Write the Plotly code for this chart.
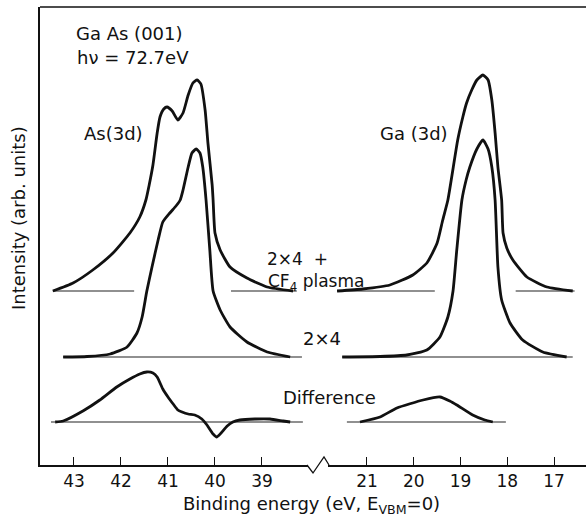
import plotly.graph_objects as go

# ---------------- data (binding energy in eV, intensity in arb. units) -------------
# Offsets (vertical stacking) of the three spectra
offset_top = 174     # 2x4 + CF4 plasma
offset_mid = 108     # 2x4
offset_diff = 43     # Difference

# As(3d) region
as_top_E = [43.45, 43.02, 42.60, 42.17, 41.81, 41.60, 41.47, 41.40, 41.32, 41.23, 41.17, 41.09,
            41.02, 40.91, 40.79, 40.68, 40.57, 40.47, 40.38, 40.30, 40.21, 40.15, 40.06, 40.04,
            40.00, 39.89, 39.68, 39.32, 38.89, 38.34]
as_top_I = [0, 8, 21, 38, 58, 74, 91, 106, 126, 158, 174, 182,
            184, 180, 171, 178, 196, 208, 211, 207, 181, 148, 106, 91,
            58, 41, 24, 13, 4, 0]

as_mid_E = [43.23, 42.72, 42.23, 41.87, 41.66, 41.55, 41.45, 41.34, 41.21, 41.11, 40.96, 40.83,
            40.74, 40.68, 40.57, 40.49, 40.40, 40.32, 40.26, 40.19, 40.11, 40.04, 39.89, 39.68,
            39.32, 38.89, 38.40]
as_mid_I = [0, 0.5, 3, 10, 24, 40, 66, 90, 117, 135, 144, 151,
            157, 167, 190, 204, 208, 204, 190, 157, 107, 66, 47, 30,
            15, 5, 0]

as_diff_E = [43.40, 43.23, 42.81, 42.45, 42.09, 41.81, 41.60, 41.45, 41.32, 41.23, 41.11, 41.00,
             40.89, 40.79, 40.70, 40.57, 40.43, 40.28, 40.17, 40.04, 39.96, 39.87, 39.74, 39.62,
             39.47, 39.15, 38.83, 38.55, 38.40]
as_diff_I = [0, 1, 11, 22, 35, 43, 48, 50, 49, 45, 33, 25,
             18, 12, 10, 8, 7, 3, -3, -12, -15, -11, -4, 0,
             2, 3, 3, 1, 0]

# Ga(3d) region
ga_top_E = [21.64, 21.09, 20.51, 20.02, 19.72, 19.50, 19.38, 19.27, 19.06, 18.95, 18.87, 18.76,
            18.65, 18.52, 18.41, 18.33, 18.26, 18.20, 18.12, 18.09, 18.01, 17.88, 17.58, 17.15,
            16.60]
ga_top_I = [0, 2, 6, 16, 28, 48, 71, 91, 151, 174, 188, 201,
            211, 216, 211, 191, 158, 124, 91, 58, 43, 31, 14, 4,
            0]

ga_mid_E = [21.53, 20.72, 20.15, 19.72, 19.44, 19.27, 19.16, 19.08, 18.97, 18.88, 18.80, 18.65,
            18.52, 18.41, 18.33, 18.26, 18.20, 18.12, 17.94, 17.67, 17.24, 16.73]
ga_mid_I = [0, 0.5, 2, 7, 20, 40, 66, 107, 157, 177, 190, 208,
            217, 208, 190, 157, 90, 57, 34, 17, 5, 0]

ga_diff_E = [21.15, 20.72, 20.36, 19.80, 19.44, 19.23, 19.08, 18.74, 18.48, 18.31]
ga_diff_I = [0, 5, 14, 22, 25, 21, 17, 7, 2, 0]

# Baseline segments (start, end energies)
as_top_base = [(43.45, 41.72), (39.66, 38.26)]
ga_top_base = [(21.64, 19.55), (17.82, 16.56)]
as_mid_base = [(43.23, 38.15)]
ga_mid_base = [(21.53, 16.60)]
as_diff_base = [(43.49, 38.13)]
ga_diff_base = [(21.43, 18.03)]

left_ticks = [43, 42, 41, 40, 39]
right_ticks = [21, 20, 19, 18, 17]

# ---------------- figure -------------
W, H = 586, 516
ML, MR, MT, MB = 40, 0, 7, 51
PW, PH = W - ML - MR, H - MT - MB

def px(x):
    return (x - ML) / PW

def py(y):
    return (H - MB - y) / PH

fig = go.Figure()
curve_style = dict(color="#111111", width=2.8, shape="spline", smoothing=0.5)
base_style = dict(color="#222222", width=1.1)

def add_curve(E, I, off, xa):
    fig.add_trace(go.Scatter(x=E, y=[v + off for v in I], mode="lines", line=curve_style,
                             xaxis=xa, yaxis="y", showlegend=False, hoverinfo="skip"))

def add_base(segs, off, xa):
    xs, ys = [], []
    for a, b in segs:
        xs += [a, b, None]
        ys += [off, off, None]
    fig.add_trace(go.Scatter(x=xs, y=ys, mode="lines", line=base_style,
                             xaxis=xa, yaxis="y", showlegend=False, hoverinfo="skip"))

add_base(as_top_base, offset_top, "x")
add_base(as_mid_base, offset_mid, "x")
add_base(as_diff_base, offset_diff, "x")
add_base(ga_top_base, offset_top, "x2")
add_base(ga_mid_base, offset_mid, "x2")
add_base(ga_diff_base, offset_diff, "x2")

add_curve(as_top_E, as_top_I, offset_top, "x")
add_curve(as_mid_E, as_mid_I, offset_mid, "x")
add_curve(as_diff_E, as_diff_I, offset_diff, "x")
add_curve(ga_top_E, ga_top_I, offset_top, "x2")
add_curve(ga_mid_E, ga_mid_I, offset_mid, "x2")
add_curve(ga_diff_E, ga_diff_I, offset_diff, "x2")

FONT = "DejaVu Sans"
axis_common = dict(showgrid=False, zeroline=False, showline=True, linecolor="#111111",
                   linewidth=1.5, ticks="inside", ticklen=8, tickwidth=1.3, tickcolor="#111111",
                   tickfont=dict(family=FONT, size=17, color="#111111"), anchor="y")

fig.update_layout(
    width=W, height=H,
    margin=dict(l=ML, r=MR, t=MT, b=MB, pad=0),
    paper_bgcolor="white", plot_bgcolor="white",
    xaxis=dict(domain=[0, px(308)], range=[43.723, 38.021], tickvals=left_ticks,
               ticktext=[str(t) for t in left_ticks], **axis_common),
    xaxis2=dict(domain=[px(328), 1], range=[21.834, 16.316], tickvals=right_ticks,
                ticktext=[str(t) for t in right_ticks], **axis_common),
    yaxis=dict(range=[0, PH], showgrid=False, zeroline=False, showline=True,
               linecolor="#111111", linewidth=1.5, showticklabels=False, ticks="",
               anchor="x"),
)

# top border and axis break zigzag
fig.add_shape(type="line", xref="paper", yref="paper", x0=0, x1=1, y0=1, y1=1,
              line=dict(color="#111111", width=1.5))
fig.add_shape(type="path", xref="paper", yref="paper",
              path=f"M {px(307)} {py(465)} L {px(313)} {py(473)} L {px(324)} {py(457)} L {px(329)} {py(465)}",
              line=dict(color="#111111", width=1.3))

def ann(text, x, y, anchor="left", size=18, angle=0):
    fig.add_annotation(text=text, x=x, y=y, xref="paper", yref="paper", showarrow=False,
                       xanchor=anchor, yanchor="middle", textangle=angle,
                       font=dict(family=FONT, size=size, color="#111111"))

ann("Ga As (001)", px(74), py(33))
ann("hν = 72.7eV", px(75), py(58))
ann("As(3d)", px(82), py(133))
ann("Ga (3d)", px(378), py(133))
ann("2×4&nbsp;&nbsp;+", px(265), py(259), size=17)
ann("CF<sub>4</sub> plasma", px(266), py(282), size=17)
ann("2×4", px(301), py(338))
ann("Difference", px(281), py(397))
ann("Intensity (arb. units)", px(18), py(218), anchor="center", angle=-90)
ann("Binding energy (eV, E<sub>VBM</sub>=0)", px(311), py(505), anchor="center")

fig.write_html("out.html")
